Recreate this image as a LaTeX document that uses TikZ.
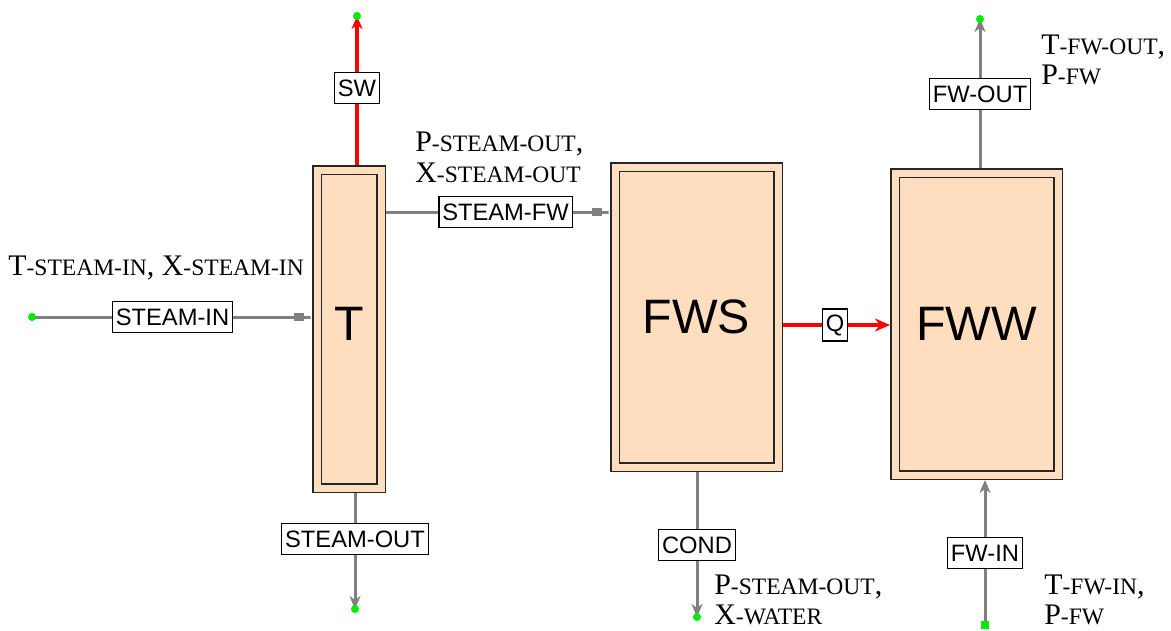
\documentclass[tikz,border=0pt]{standalone}
\usepackage{fontspec}
\setmainfont{Liberation Serif}
\newfontfamily\aspenfont{Liberation Sans}
\usetikzlibrary{arrows.meta,positioning}
\definecolor{BlockPeach}{RGB}{255,222,191}
\definecolor{StreamGray}{RGB}{128,128,128}
\definecolor{HeatRed}{RGB}{255,0,0}
\definecolor{PortGreen}{RGB}{0,235,0}
\newcommand\vname[2]{#1{\fontsize{13.4}{14}\selectfont#2}}

\begin{document}
\begin{tikzpicture}[x=0.2mm,y=-0.2mm,
    block/.style={draw=black!85,line width=0.3mm,double=BlockPeach,double distance=1.4mm,
      fill=BlockPeach,outer sep=1mm,font=\aspenfont\fontsize{27.5}{30}\selectfont},
    sbox/.style={draw=black,line width=0.3mm,fill=white,inner xsep=0.7mm,inner ysep=0pt,
      minimum height=6.2mm,font=\aspenfont\fontsize{13.5}{14}\selectfont},
    material/.style={StreamGray,line width=0.6mm},
    heat/.style={HeatRed,line width=0.7mm},
    outtip/.style={-{Stealth[length=2.6mm,width=2.2mm,inset=0.8mm]}},
    intip/.style={-{Square[length=2mm,width=1.6mm]Rectangle[length=1.6mm,width=0pt 1]}},
    port/.style={PortGreen},
    varlabel/.style={anchor=west,align=left,inner sep=0pt,font=\fontsize{17}{17.5}\selectfont}]
  \useasboundingbox (0,0) rectangle (1171,630);

  % unit blocks
  \node[block,minimum width=12.8mm,minimum height=63.6mm] (T) at (349,329) {\raisebox{2.2mm}{T}\hspace{3.4mm}};
  \node[block,minimum width=32.6mm,minimum height=60mm] (FWS) at (696.5,317) {FWS};
  \node[block,minimum width=32.6mm,minimum height=60.4mm] (FWW) at (976.5,324) {FWW};

  % stream ids
  \node[sbox] (sw) at (357,88) {SW};
  \node[sbox] (steamin) at (172.5,317) {STEAM-IN};
  \node[sbox] (steamfw) at (505.5,212) {STEAM-FW};
  \node[sbox,minimum height=6.4mm] (q) at (835,325) {Q};
  \node[sbox] (fwout) at (980,94) {FW-OUT};
  \node[sbox] (fwin) at (985,553) {FW-IN};
  \node[sbox] (steamout) at (355,539) {STEAM-OUT};
  \node[sbox] (cond) at (697,545) {COND};

  % free ends
  \coordinate (swend) at (357,16);
  \coordinate (steaminst) at (32,317);
  \coordinate (steamoutend) at (355,609);
  \coordinate (condend) at (697,617);
  \coordinate (fwoutend) at (980,19);
  \coordinate (fwinst) at (985,625);

  % streams
  \draw[heat,outtip] (T.north -| sw) -- (sw) -- (swend);
  \draw[material,intip] (steaminst) -- (steamin) -- (T.west |- steamin);
  \draw[material,intip] (T.east |- steamfw) -- (steamfw) -- (FWS.west |- steamfw);
  \draw[heat,-{Stealth[length=3mm,width=2.6mm]}] (FWS.east |- q) -- (q) -- (FWW.west |- q);
  \draw[material,outtip] (FWW.north -| fwout) -- (fwout) -- (fwoutend);
  \draw[material,outtip] (fwinst) -- (fwin) -- (FWW.south -| fwin);
  \draw[material,outtip] (T.south -| steamout) -- (steamout) -- (steamoutend);
  \draw[material,outtip] (FWS.south -| cond) -- (cond) -- (condend);

  \foreach \p in {swend,steaminst,steamoutend,condend,fwoutend}
    \fill[port] (\p) circle (0.8mm);
  \fill[port] ([shift={(-4,-4)}]fwinst) rectangle ([shift={(4,4)}]fwinst);

  % variable labels
  \node[varlabel] (tsteamin) at (8,268) {\vname{T}{-STEAM-IN}, \vname{X}{-STEAM-IN}};
  \node[varlabel] (psteamout) at (415,157) {\vname{P}{-STEAM-OUT},\\\vname{X}{-STEAM-OUT}};
  \node[varlabel] (tfwout) at (1041,60) {\vname{T}{-FW-OUT},\\\vname{P}{-FW}};
  \node[varlabel] (tfwin) at (1044,600) {\vname{T}{-FW-IN},\\\vname{P}{-FW}};
  \node[varlabel] (pcond) at (714,600) {\vname{P}{-STEAM-OUT},\\\vname{X}{-WATER}};
\end{tikzpicture}
\end{document}
